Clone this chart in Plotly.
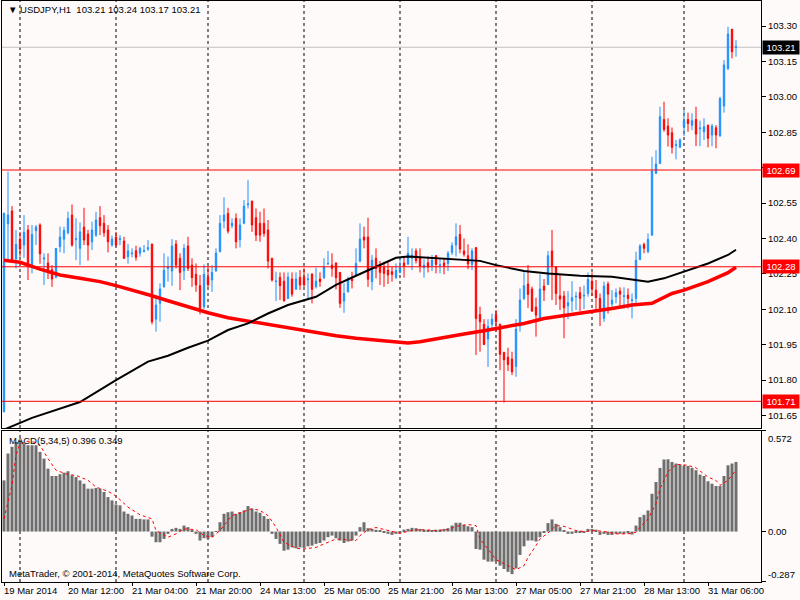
import plotly.graph_objects as go
from plotly.subplots import make_subplots

# USDJPY H1, 19 Mar 20:00 .. 31 Mar 12:00 (one entry per hourly bar)
opens = [101.666, 102.462, 102.516, 102.313, 102.397, 102.372, 102.436, 102.284, 102.433, 102.457,
         102.313, 102.296, 102.268, 102.236, 102.365, 102.397, 102.424, 102.499, 102.396, 102.358,
         102.448, 102.419, 102.386, 102.414, 102.488, 102.464, 102.436, 102.372, 102.406, 102.396,
         102.389, 102.323, 102.335, 102.348, 102.337, 102.345, 102.355, 102.376, 102.058, 102.125,
         102.196, 102.273, 102.262, 102.376, 102.316, 102.263, 102.368, 102.287, 102.248, 102.200,
         102.111, 102.236, 102.224, 102.262, 102.344, 102.474, 102.506, 102.454, 102.485, 102.395,
         102.464, 102.543, 102.558, 102.488, 102.464, 102.464, 102.436, 102.316, 102.217, 102.235,
         102.219, 102.146, 102.228, 102.186, 102.235, 102.235, 102.225, 102.249, 102.196, 102.228,
         102.234, 102.292, 102.287, 102.296, 102.256, 102.135, 102.174, 102.228, 102.245, 102.304,
         102.406, 102.406, 102.217, 102.316, 102.287, 102.277, 102.266, 102.259, 102.234, 102.256,
         102.296, 102.292, 102.316, 102.347, 102.318, 102.276, 102.297, 102.284, 102.327, 102.286,
         102.296, 102.294, 102.341, 102.372, 102.417, 102.347, 102.327, 102.290, 102.361, 102.078,
         102.036, 101.974, 102.036, 102.078, 102.036, 101.917, 101.897, 101.889, 101.858, 102.029,
         102.146, 102.207, 102.186, 102.109, 102.064, 102.198, 102.205, 102.347, 102.279, 102.157,
         102.156, 102.114, 102.135, 102.152, 102.170, 102.156, 102.167, 102.219, 102.181, 102.146,
         102.061, 102.207, 102.122, 102.153, 102.177, 102.154, 102.160, 102.137, 102.146, 102.311,
         102.375, 102.344, 102.414, 102.676, 102.718, 102.904, 102.876, 102.848, 102.794, 102.786,
         102.873, 102.904, 102.880, 102.904, 102.865, 102.852, 102.880, 102.838, 102.869, 102.834,
         102.961, 103.120, 103.286, 103.210]
highs = [102.510, 102.683, 102.537, 102.436, 102.428, 102.499, 102.457, 102.457, 102.457, 102.464,
         102.337, 102.337, 102.287, 102.358, 102.450, 102.450, 102.513, 102.544, 102.485, 102.468,
         102.530, 102.436, 102.471, 102.513, 102.537, 102.499, 102.457, 102.412, 102.428, 102.414,
         102.407, 102.376, 102.358, 102.369, 102.365, 102.372, 102.393, 102.378, 102.153, 102.210,
         102.337, 102.323, 102.397, 102.393, 102.337, 102.376, 102.407, 102.316, 102.294, 102.245,
         102.290, 102.280, 102.287, 102.358, 102.499, 102.574, 102.530, 102.485, 102.506, 102.485,
         102.563, 102.647, 102.560, 102.527, 102.513, 102.527, 102.478, 102.318, 102.259, 102.256,
         102.256, 102.256, 102.256, 102.256, 102.266, 102.273, 102.252, 102.252, 102.276, 102.256,
         102.316, 102.347, 102.337, 102.298, 102.258, 102.210, 102.238, 102.259, 102.358, 102.464,
         102.450, 102.488, 102.330, 102.358, 102.304, 102.301, 102.301, 102.280, 102.294, 102.316,
         102.323, 102.407, 102.358, 102.358, 102.358, 102.311, 102.323, 102.330, 102.330, 102.316,
         102.316, 102.347, 102.383, 102.464, 102.457, 102.400, 102.375, 102.358, 102.363, 102.111,
         102.058, 102.058, 102.082, 102.097, 102.040, 101.920, 101.937, 101.920, 102.058, 102.188,
         102.256, 102.287, 102.196, 102.149, 102.248, 102.228, 102.347, 102.436, 102.281, 102.245,
         102.177, 102.177, 102.219, 102.174, 102.195, 102.200, 102.256, 102.256, 102.224, 102.167,
         102.217, 102.217, 102.181, 102.188, 102.193, 102.193, 102.188, 102.167, 102.344, 102.376,
         102.382, 102.421, 102.746, 102.774, 102.958, 102.979, 102.909, 102.870, 102.817, 102.824,
         102.944, 102.933, 102.930, 102.958, 102.899, 102.909, 102.882, 102.885, 102.880, 103.000,
         103.156, 103.297, 103.288, 103.240]
lows = [101.663, 102.308, 102.301, 102.273, 102.323, 102.318, 102.224, 102.252, 102.372, 102.293,
        102.203, 102.228, 102.195, 102.231, 102.341, 102.337, 102.417, 102.365, 102.308, 102.287,
        102.372, 102.306, 102.351, 102.407, 102.414, 102.407, 102.341, 102.365, 102.365, 102.372,
        102.313, 102.293, 102.320, 102.306, 102.323, 102.341, 102.347, 102.036, 102.005, 102.047,
        102.191, 102.217, 102.200, 102.273, 102.181, 102.224, 102.262, 102.195, 102.174, 102.078,
        102.101, 102.195, 102.174, 102.259, 102.341, 102.443, 102.421, 102.443, 102.358, 102.362,
        102.460, 102.527, 102.428, 102.389, 102.386, 102.407, 102.273, 102.217, 102.135, 102.139,
        102.132, 102.143, 102.153, 102.181, 102.181, 102.195, 102.139, 102.125, 102.188, 102.195,
        102.228, 102.287, 102.238, 102.184, 102.106, 102.085, 102.171, 102.188, 102.242, 102.299,
        102.358, 102.195, 102.181, 102.231, 102.203, 102.195, 102.207, 102.217, 102.228, 102.252,
        102.234, 102.287, 102.266, 102.294, 102.256, 102.234, 102.256, 102.262, 102.252, 102.252,
        102.248, 102.262, 102.330, 102.323, 102.337, 102.323, 102.270, 102.266, 101.906, 101.920,
        101.948, 101.856, 102.008, 102.005, 101.842, 101.705, 101.838, 101.821, 101.814, 102.005,
        102.139, 102.106, 102.090, 101.984, 102.061, 102.135, 102.203, 102.139, 102.118, 102.097,
        101.977, 102.058, 102.090, 102.097, 102.092, 102.101, 102.153, 102.156, 102.096, 102.029,
        102.047, 102.082, 102.103, 102.125, 102.111, 102.103, 102.103, 102.061, 102.118, 102.308,
        102.337, 102.337, 102.412, 102.673, 102.715, 102.852, 102.789, 102.760, 102.735, 102.784,
        102.834, 102.852, 102.859, 102.791, 102.791, 102.817, 102.786, 102.791, 102.782, 102.832,
        102.933, 103.113, 103.163, 103.170]
closes = [102.506, 102.499, 102.308, 102.375, 102.355, 102.426, 102.287, 102.417, 102.448, 102.335,
          102.317, 102.262, 102.228, 102.358, 102.406, 102.434, 102.485, 102.372, 102.399, 102.428,
          102.393, 102.372, 102.436, 102.478, 102.454, 102.424, 102.386, 102.397, 102.372, 102.399,
          102.316, 102.347, 102.338, 102.320, 102.358, 102.348, 102.361, 102.047, 102.118, 102.186,
          102.265, 102.279, 102.368, 102.287, 102.256, 102.358, 102.273, 102.234, 102.203, 102.104,
          102.248, 102.203, 102.256, 102.338, 102.464, 102.499, 102.431, 102.464, 102.386, 102.457,
          102.537, 102.546, 102.457, 102.414, 102.414, 102.421, 102.304, 102.224, 102.219, 102.200,
          102.136, 102.236, 102.164, 102.228, 102.203, 102.203, 102.228, 102.184, 102.219, 102.217,
          102.279, 102.294, 102.273, 102.234, 102.125, 102.167, 102.228, 102.221, 102.294, 102.397,
          102.393, 102.227, 102.308, 102.273, 102.256, 102.252, 102.245, 102.248, 102.265, 102.277,
          102.284, 102.337, 102.330, 102.306, 102.283, 102.287, 102.279, 102.308, 102.290, 102.289,
          102.284, 102.337, 102.369, 102.407, 102.355, 102.333, 102.292, 102.347, 102.061, 102.047,
          101.951, 102.027, 102.058, 102.047, 101.909, 101.886, 101.866, 101.835, 102.016, 102.139,
          102.200, 102.163, 102.092, 102.075, 102.186, 102.181, 102.327, 102.284, 102.167, 102.143,
          102.106, 102.128, 102.149, 102.155, 102.146, 102.159, 102.227, 102.186, 102.149, 102.103,
          102.198, 102.164, 102.139, 102.170, 102.164, 102.157, 102.146, 102.140, 102.308, 102.368,
          102.358, 102.396, 102.685, 102.715, 102.916, 102.862, 102.838, 102.786, 102.797, 102.817,
          102.899, 102.887, 102.899, 102.842, 102.868, 102.873, 102.824, 102.876, 102.838, 102.993,
          103.135, 103.266, 103.191, 103.212]
bars = list(range(len(closes)))

# moving averages (bar index, price)
red_ma_bars = [0, 4, 9, 14, 19, 24, 28, 33, 37, 41, 46, 51, 56, 61, 66, 71, 78, 83, 88, 93,
               98, 101, 104, 107, 111, 115, 120, 125, 130, 135, 140, 146, 152, 157, 162, 167,
               170, 176, 181, 183]
red_ma = [102.308, 102.299, 102.270, 102.245, 102.231, 102.217, 102.200, 102.177, 102.157, 102.136,
          102.111, 102.085, 102.064, 102.050, 102.036, 102.019, 102.001, 101.988, 101.977, 101.970,
          101.962, 101.957, 101.962, 101.970, 101.982, 101.995, 102.009, 102.023, 102.040, 102.061,
          102.073, 102.090, 102.103, 102.118, 102.125, 102.167, 102.181, 102.217, 102.255, 102.278]
black_ma_bars = [0, 7, 19, 28, 36, 41, 46, 51, 56, 61, 66, 71, 78, 83, 88, 93, 98, 101, 108,
                 115, 119, 123, 130, 136, 144, 152, 157, 161, 165, 170, 176, 181, 183]
black_ma = [101.590, 101.640, 101.707, 101.800, 101.878, 101.903, 101.937, 101.967, 102.012,
            102.040, 102.082, 102.118, 102.153, 102.203, 102.242, 102.280, 102.318, 102.323,
            102.316, 102.312, 102.305, 102.287, 102.262, 102.252, 102.242, 102.238, 102.226,
            102.217, 102.231, 102.259, 102.294, 102.330, 102.352]

# MACD(5,34,5) histogram and signal
macd = [0.291, 0.444, 0.482, 0.510, 0.520, 0.501, 0.491, 0.491, 0.491, 0.453,
        0.415, 0.358, 0.316, 0.316, 0.326, 0.335, 0.343, 0.320, 0.310, 0.291,
        0.272, 0.244, 0.244, 0.248, 0.244, 0.225, 0.196, 0.177, 0.154, 0.149,
        0.114, 0.101, 0.091, 0.072, 0.072, 0.069, 0.069, -0.029, -0.061, -0.061,
        -0.042, -0.013, 0.015, 0.021, 0.015, 0.034, 0.025, 0.006, -0.013, -0.051,
        -0.038, -0.042, -0.032, 0.003, 0.053, 0.101, 0.110, 0.114, 0.101, 0.110,
        0.120, 0.145, 0.130, 0.114, 0.107, 0.088, 0.072, -0.013, -0.042, -0.070,
        -0.109, -0.103, -0.090, -0.095, -0.090, -0.093, -0.084, -0.080, -0.070, -0.065,
        -0.051, -0.032, -0.023, -0.038, -0.051, -0.065, -0.057, -0.051, -0.023, 0.025,
        0.053, 0.019, 0.015, 0.010, 0.006, -0.008, -0.013, -0.019, -0.013, -0.008,
        0.011, 0.015, 0.021, 0.019, 0.015, 0.011, 0.010, 0.006, 0.010, 0.011,
        0.015, 0.019, 0.034, 0.050, 0.050, 0.038, 0.030, 0.025, -0.099, -0.103,
        -0.160, -0.171, -0.171, -0.171, -0.194, -0.213, -0.229, -0.242, -0.210, -0.133,
        -0.084, -0.051, -0.051, -0.057, -0.032, -0.008, 0.048, 0.069, 0.044, 0.025,
        0.004, -0.013, -0.013, -0.008, -0.008, -0.004, 0.015, 0.015, 0.011, -0.019,
        -0.013, -0.019, -0.019, -0.013, -0.013, -0.013, -0.010, -0.017, 0.034, 0.082,
        0.095, 0.120, 0.215, 0.282, 0.362, 0.410, 0.411, 0.396, 0.387, 0.381,
        0.373, 0.373, 0.362, 0.349, 0.324, 0.316, 0.286, 0.272, 0.259, 0.259,
        0.316, 0.377, 0.387, 0.396]
signal_bars = [0, 2, 3, 4, 6, 8, 9, 11, 13, 16, 18, 21, 23, 26, 28, 31, 34, 37, 38, 41,
               43, 45, 48, 50, 52, 54, 57, 59, 62, 64, 66, 68, 70, 73, 75, 78, 80, 83, 85, 88,
               89, 91, 93, 96, 99, 102, 104, 108, 111, 113, 116, 118, 119, 121, 123, 126, 128,
               130, 131, 133, 134, 136, 138, 140, 143, 145, 148, 150, 153, 156, 158, 159, 161,
               163, 164, 166, 168, 169, 171, 173, 174, 176, 178, 179, 181, 183]
signal = [0.072, 0.263, 0.434, 0.500, 0.514, 0.507, 0.491, 0.415, 0.349, 0.324, 0.320, 0.291,
          0.253, 0.229, 0.202, 0.139, 0.095, 0.072, 0.006, -0.032, -0.013, 0.015, 0.011, -0.023,
          -0.032, 0.006, 0.091, 0.107, 0.130, 0.120, 0.091, 0.025, -0.061, -0.095, -0.099,
          -0.090, -0.070, -0.042, -0.046, -0.051, -0.023, 0.011, 0.023, 0.006, -0.010, 0.006,
          0.011, 0.006, 0.011, 0.030, 0.040, 0.034, -0.042, -0.099, -0.160, -0.194, -0.217,
          -0.194, -0.147, -0.080, -0.042, -0.008, 0.034, 0.030, 0.006, 0.000, 0.006, 0.000,
          -0.013, -0.013, -0.004, 0.025, 0.072, 0.158, 0.244, 0.339, 0.381, 0.381, 0.377,
          0.362, 0.343, 0.310, 0.291, 0.263, 0.291, 0.349]

# time axis
label_bars = [0, 16, 32, 48, 64, 80, 96, 112, 128, 144, 160, 176]
label_text = ["19 Mar 2014", "20 Mar 12:00", "21 Mar 04:00", "21 Mar 20:00", "24 Mar 13:00",
              "25 Mar 05:00", "25 Mar 21:00", "26 Mar 13:00", "27 Mar 05:00", "27 Mar 21:00",
              "28 Mar 13:00", "31 Mar 06:00"]
day_start_bars = [4, 28, 51, 75, 99, 123, 147, 170]

price_ticks = [101.65, 101.80, 101.95, 102.10, 102.25, 102.40, 102.55, 102.70, 102.85,
               103.00, 103.15, 103.30]
level_lines = [102.69, 102.28, 101.71]
last_price = 103.21
macd_ticks = [0.572, 0.0, -0.287]

FONT = "Liberation Sans"
BG = "#fffafa"
small = dict(family=FONT, size=9.5, color="#000000")

fig = make_subplots(rows=2, cols=1, shared_xaxes=True, vertical_spacing=0.005)

fig.add_trace(go.Candlestick(
    x=bars, open=opens, high=highs, low=lows, close=closes,
    increasing=dict(line=dict(color="#1e90ff", width=1), fillcolor="#1e90ff"),
    decreasing=dict(line=dict(color="#ff0000", width=1), fillcolor="#ff0000"),
    whiskerwidth=0, showlegend=False, hoverinfo="skip"), row=1, col=1)

fig.add_trace(go.Scatter(x=red_ma_bars, y=red_ma, mode="lines",
                         line=dict(color="#ff0000", width=3.5),
                         showlegend=False, hoverinfo="skip"), row=1, col=1)
fig.add_trace(go.Scatter(x=black_ma_bars, y=black_ma, mode="lines",
                         line=dict(color="#000000", width=2),
                         showlegend=False, hoverinfo="skip"), row=1, col=1)

fig.add_trace(go.Bar(x=bars, y=macd, width=0.75, marker=dict(color="#6e6e6e", line=dict(width=0)),
                     showlegend=False, hoverinfo="skip"), row=2, col=1)
fig.add_trace(go.Scatter(x=signal_bars, y=signal, mode="lines",
                         line=dict(color="#ff0000", width=1, dash="dot"),
                         showlegend=False, hoverinfo="skip"), row=2, col=1)

# dashed day separators
for b in day_start_bars:
    for xr, yr in (("x", "y domain"), ("x2", "y2 domain")):
        fig.add_shape(type="line", xref=xr, yref=yr, x0=b, x1=b, y0=0, y1=1, layer="below",
                      line=dict(color="#000000", width=1, dash="3px,3px"))

# horizontal levels
fig.add_shape(type="line", xref="x domain", yref="y", x0=0, x1=1, y0=last_price, y1=last_price,
              layer="below", line=dict(color="#c0c0c0", width=1))
for lv in level_lines:
    fig.add_shape(type="line", xref="x domain", yref="y", x0=0, x1=1, y0=lv, y1=lv,
                  layer="above", line=dict(color="#ff0000", width=1))

# right-hand price tags
fig.add_annotation(xref="paper", x=1, yref="y", y=last_price, xanchor="left", xshift=1,
                   text="%.2f" % last_price, showarrow=False, bgcolor="#000000", borderpad=1,
                   width=34, align="center", font=dict(family=FONT, size=9.5, color="#ffffff"))
for lv in level_lines:
    fig.add_annotation(xref="paper", x=1, yref="y", y=lv, xanchor="left", xshift=1,
                       text="%.2f" % lv, showarrow=False, bgcolor="#ff0000", borderpad=1,
                       width=34, align="center", font=dict(family=FONT, size=9.5, color="#ffffff"))

# MACD scale labels
fig.add_annotation(xref="paper", x=1, yref="y2", y=macd_ticks[0], xanchor="left", yanchor="top",
                   xshift=5, text="%.3f" % macd_ticks[0], showarrow=False, font=small)
fig.add_annotation(xref="paper", x=1, yref="y2", y=macd_ticks[1], xanchor="left", yanchor="middle",
                   xshift=5, text="%.2f" % macd_ticks[1], showarrow=False, font=small)
fig.add_annotation(xref="paper", x=1, yref="y2", y=macd_ticks[2], xanchor="left", yanchor="bottom",
                   xshift=5, text="%.3f" % macd_ticks[2], showarrow=False, font=small)

# time labels, left-aligned on their bar like the terminal does
for b, t in zip(label_bars, label_text):
    fig.add_annotation(xref="x2", x=b, yref="paper", y=0, xanchor="left", yanchor="top",
                       xshift=-2, yshift=-1, text=t, showarrow=False, font=small)

# texts
fig.add_annotation(xref="paper", x=0, yref="paper", y=1, xanchor="left", yanchor="top",
                   xshift=4, yshift=-1, showarrow=False,
                   text="\u25bc USDJPY,H1\u00a0\u00a0103.21 103.24 103.17 103.21", font=small)
fig.add_annotation(xref="paper", x=0, yref="y2 domain", y=1, xanchor="left", yanchor="top",
                   xshift=5, yshift=-2, showarrow=False,
                   text="MACD(5,34,5) 0.396 0.349", font=small)
fig.add_annotation(xref="paper", x=0, yref="y2 domain", y=0, xanchor="left", yanchor="bottom",
                   xshift=5, yshift=1, showarrow=False,
                   text="MetaTrader, \u00a9 2001-2014, MetaQuotes Software Corp.", font=small)

axis_common = dict(showgrid=False, zeroline=False, showline=True, mirror=True,
                   linecolor="#000000", linewidth=1, automargin=False, tickfont=small)

fig.update_layout(
    template="none",
    width=800, height=600,
    margin=dict(l=2, r=39, t=1, b=18),
    paper_bgcolor=BG, plot_bgcolor=BG,
    showlegend=False, hovermode=False,
    boxgap=0.5,
    xaxis=dict(range=[-0.5, 189.25], showticklabels=False, ticks="",
               rangeslider=dict(visible=False), **axis_common),
    xaxis2=dict(range=[-0.5, 189.25], tickvals=label_bars, showticklabels=False,
                ticks="outside", ticklen=3, tickcolor="#000000", **axis_common),
    yaxis=dict(domain=[0.2651, 1.0], range=[101.597, 103.406], side="right",
               tickvals=price_ticks, ticktext=["%.2f" % t for t in price_ticks],
               ticks="outside", ticklen=4, tickcolor="#000000", **axis_common),
    yaxis2=dict(domain=[0.0, 0.2599], range=[-0.287, 0.572], side="right",
                tickvals=macd_ticks, showticklabels=False,
                ticks="outside", ticklen=4, tickcolor="#000000", **axis_common),
)

# the page's default 8px body margin would push the 800x600 figure off the window
fig.write_html("out.html", config={"displayModeBar": False},
               post_script="document.body.style.margin='0';")
